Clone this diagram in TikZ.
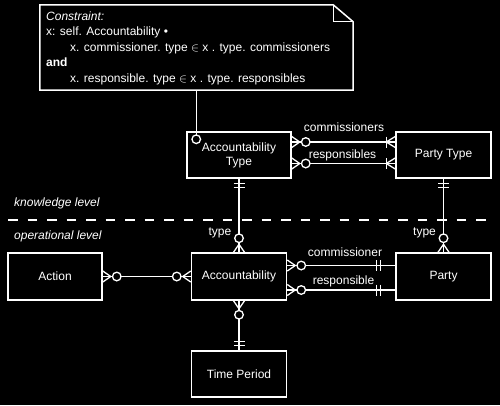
\documentclass[tikz,border=0pt]{standalone}
\usepackage{fontspec}
\setmainfont{Liberation Sans}
\usetikzlibrary{calc}
\begin{document}
\begin{tikzpicture}[x=1pt,y=-1pt,
  every node/.style={text=white,font=\fontsize{12}{14}\selectfont},
  entity/.style={draw=white,fill=black,line width=1.5pt,align=center,inner sep=0pt},
  conn/.style={draw=white,line width=1.3pt},
  lbl/.style={anchor=base,inner sep=0pt},
  lvl/.style={anchor=base west,inner sep=0pt,font=\fontsize{12}{14}\selectfont\itshape},
  manyopt/.pic={\draw[conn] (0,5.5) -- (8,0) -- (0,-5.5);
                \draw[conn,fill=black] (14,0) circle[radius=4.3];},
  onemany/.pic={\draw[conn] (0,5.5) -- (9,0) -- (0,-5.5);
                \draw[conn] (9,5.5) -- (9,-5.5);},
  onenear/.pic={\draw[conn] (5,5.5) -- (5,-5.5) (9,5.5) -- (9,-5.5);},
  onefar/.pic={\draw[conn] (15,5.5) -- (15,-5.5) (18.5,5.5) -- (18.5,-5.5);}
]
\useasboundingbox (0,0) rectangle (500,405);
\fill[black] (0,0) rectangle (500,405);

% level separator
\draw[white,line width=1.6pt,dash pattern=on 9.5pt off 10pt] (8,220) -- (490,220);
\node[lvl] (kl) at (14,206) {knowledge level};
\node[lvl] (ol) at (14,239) {operational level};

% note
\node[minimum width=313pt,minimum height=85pt,inner sep=0pt] (note) at (196.5,47.5) {};
\draw[white,line width=1.5pt,fill=black]
  (note.south west) -- (note.north west) -- ([xshift=-20pt]note.north east)
  -- ([yshift=-17pt]note.north east) -- (note.south east) -- cycle;
\draw[white,line width=1.3pt]
  ([xshift=-20pt]note.north east) -- ([xshift=-20pt,yshift=-17pt]note.north east)
  -- ([yshift=-17pt]note.north east);
\node[anchor=north west,inner sep=0pt,align=left,
      font=\fontsize{12}{15.5}\selectfont] (ntext) at (46,11.5)
  {\textit{Constraint:}\\
   x: self. Accountability \textbullet\\
   \hspace*{24pt}x. commissioner. type $\in$ x . type. commissioners\\
   \textbf{and}\\
   \hspace*{24pt}x. responsible. type $\in$ x . type. responsibles};

% entities
\node[entity,minimum width=104pt,minimum height=46pt] (at) at (239,155) {Accountability\\Type};
\node[entity,minimum width=95pt,minimum height=46pt] (pt) at (443.5,155) {Party Type};
\node[entity,minimum width=95pt,minimum height=47pt] (ac) at (239,276.5) {Accountability};
\node[entity,minimum width=95pt,minimum height=47pt] (pa) at (443.5,276.5) {Party};
\node[entity,minimum width=94pt,minimum height=47pt] (an) at (55,276.5) {Action};
\node[entity,minimum width=95pt,minimum height=46pt] (tp) at (239,374) {Time Period};

% note link
\coordinate (nc) at ($(at.north west)+(10,8)$);
\draw[conn] (note.south -| nc) -- (nc);
\draw[conn,fill=black] (nc) circle[radius=4.3];

% connectors
\coordinate (c1) at ([yshift=13pt]at.east);
\coordinate (c2) at ([yshift=-8.5pt]at.east);
\draw[conn] (c1) -- (c1 -| pt.west);
\draw[conn] (c2) -- (c2 -| pt.west);
\draw[conn] (at.south) -- (ac.north);
\draw[conn] (pt.south) -- (pa.north);
\coordinate (c3) at ([yshift=11pt]ac.east);
\coordinate (c4) at ([yshift=-13.5pt]ac.east);
\draw[conn] (c3) -- (c3 -| pa.west);
\draw[conn] (c4) -- (c4 -| pa.west);
\draw[conn] (an.east) -- (ac.west);
\draw[conn] (ac.south) -- (tp.north);

% end symbols
\pic at (c1) {manyopt};
\pic at (c2) {manyopt};
\pic[rotate=180] at (c1 -| pt.west) {onemany};
\pic[rotate=180] at (c2 -| pt.west) {onemany};
\pic[rotate=-90] at (at.south) {onenear};
\pic[rotate=90] at (ac.north) {manyopt};
\pic[rotate=-90] at (pt.south) {onenear};
\pic[rotate=90] at (pa.north) {manyopt};
\pic at (c3) {manyopt};
\pic at (c4) {manyopt};
\pic[rotate=180] at (c3 -| pa.west) {onefar};
\pic[rotate=180] at (c4 -| pa.west) {onefar};
\pic at (an.east) {manyopt};
\pic[rotate=180] at (ac.west) {manyopt};
\pic[rotate=-90] at (ac.south) {manyopt};
\pic[rotate=90] at (tp.north) {onenear};

% labels
\node[lbl] (l1) at (344,131.5) {commissioners};
\node[lbl] (l2) at (342.5,158) {responsibles};
\node[lbl] (l3) at (345,256.5) {commissioner};
\node[lbl] (l4) at (343.5,284) {responsible};
\node[lbl] (l5) at (220,235) {type};
\node[lbl] (l6) at (424.5,235) {type};
\end{tikzpicture}
\end{document}
